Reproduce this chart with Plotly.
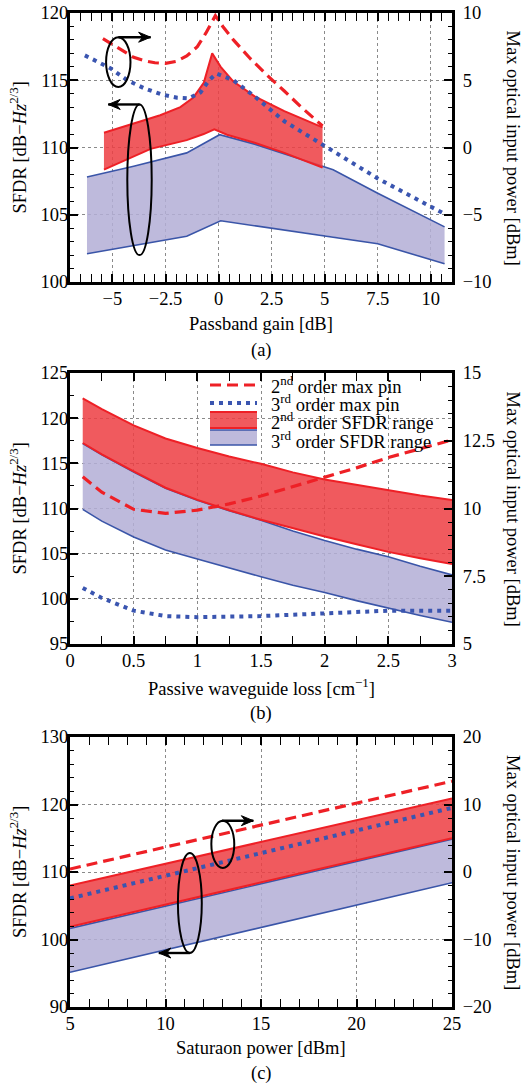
import numpy as np
import plotly.graph_objects as go
from plotly.subplots import make_subplots

FONT = "Liberation Serif"
FS = 18.5
RED_LINE = "#EE2026"
RED_FILL = "rgba(237,61,66,0.85)"
BLUE_LINE = "#3A55A8"
BLUE_DOT = "#3A55B0"
BLUE_FILL = "rgba(179,174,214,0.85)"

# ---------------- Panel (a): Passband gain ----------------
gain_pin2_a = [-5.45, -5, -4.5, -4, -3.5, -3, -2.5, -2, -1.5, -1, -0.6, -0.15, 0.2, 0.7, 1.5, 2.3, 3.1, 3.9, 4.9]
pin2_a = [8.1, 7.65, 7.15, 6.7, 6.45, 6.3, 6.25, 6.4, 6.8, 7.5, 8.5, 9.8, 9.0, 8.0, 6.6, 5.35, 4.2, 3.0, 1.6]
gain_pin3_a = [-6.3, -5.1, -4.3, -3.5, -2.7, -1.95, -1.4, -0.85, -0.45, -0.1, 0.7, 1.7, 3.1, 5.0, 7.5, 10.6]
pin3_a = [6.85, 5.9, 5.0, 4.4, 3.95, 3.7, 3.65, 4.1, 5.0, 5.5, 5.0, 3.8, 1.95, 0.1, -2.3, -4.9]
gain_red_up_a = [-5.4, -4.0, -2.75, -1.8, -1.2, -0.7, -0.3, 0.1, 0.7, 1.7, 3.1, 4.9]
red_up_a = [111.1, 111.8, 112.4, 113.0, 113.7, 114.8, 117.0, 116.0, 114.9, 113.8, 112.7, 111.5]
gain_red_lo_a = [-5.4, -4.0, -3.2, -1.5, -0.7, -0.2, 0.4, 1.7, 3.1, 4.9]
red_lo_a = [108.35, 109.35, 109.9, 110.55, 111.0, 111.35, 110.95, 110.35, 109.6, 108.5]
gain_blue_up_a = [-6.2, -4.0, -1.5, 0.05, 1.7, 3.1, 5.4, 7.5, 10.65]
blue_up_a = [107.8, 108.6, 109.6, 110.95, 110.25, 109.55, 108.35, 106.6, 104.1]
gain_blue_lo_a = [-6.2, -1.5, 0.1, 5.05, 7.5, 10.65]
blue_lo_a = [102.1, 103.4, 104.55, 103.45, 102.85, 101.35]

# ---------------- Panel (b): Passive waveguide loss ----------------
loss_b = [0.1, 0.25, 0.5, 0.75, 1.0, 1.25, 1.5, 1.75, 2.0, 2.25, 2.5, 2.75, 3.0]
red_up_b = [122.2, 121.0, 119.2, 117.75, 116.7, 115.75, 114.95, 114.0, 113.2, 112.6, 112.0, 111.45, 110.95]
red_lo_b = [117.25, 116.0, 114.1, 112.3, 110.95, 109.8, 108.75, 107.8, 106.9, 106.05, 105.2, 104.5, 103.85]
blue_up_b = [117.2, 115.95, 114.05, 112.25, 110.9, 109.75, 108.7, 107.5, 106.45, 105.5, 104.65, 103.6, 102.65]
blue_lo_b = [109.9, 108.6, 106.85, 105.4, 104.4, 103.4, 102.45, 101.5, 100.7, 99.8, 98.95, 98.15, 97.4]
pin2_b = [11.17, 10.6, 9.97, 9.82, 9.94, 10.17, 10.46, 10.8, 11.15, 11.5, 11.88, 12.2, 12.53]
pin3_b = [7.07, 6.7, 6.23, 6.03, 5.99, 6.0, 6.03, 6.08, 6.13, 6.18, 6.23, 6.23, 6.23]

# ---------------- Panel (c): Saturation power ----------------
psat_c = [5, 10, 15, 20, 25]
pin2_c = [0.44, 3.7, 6.95, 10.2, 13.45]
pin3_c = [-3.9, -0.55, 2.8, 6.15, 9.5]
red_up_c = [108.0, 111.2, 114.45, 117.7, 120.9]
red_lo_c = [101.9, 105.2, 108.45, 111.7, 115.0]
blue_up_c = [101.65, 104.95, 108.25, 111.55, 114.85]
blue_lo_c = [95.15, 98.45, 101.8, 105.1, 108.4]

x_titles = ["Passband gain [dB]", "Passive waveguide loss [cm<sup>−1</sup>]", "Saturaon power [dBm]"]
captions = ["(a)", "(b)", "(c)"]
left_title = "SFDR [dB−<i>Hz</i><sup>2/3</sup>]"
right_title = "Max optical input power [dBm]"
legend_labels = ["2<sup>nd</sup> order max pin", "3<sup>rd</sup> order max pin",
                 "2<sup>nd</sup> order SFDR range", "3<sup>rd</sup> order SFDR range"]

W, H = 531, 1087
PL, PR, PT, PB = 70, 452, 13, 1007
ML, MR, MT, MB = PL, W - PR, PT, H - PB
PW, PH = PR - PL, PB - PT


def px(xs):
    return (xs - PL) / PW


def py(ys):
    return 1 - (ys - PT) / PH


panels_px = [(13, 282), (373, 644), (737, 1007)]

fig = make_subplots(rows=3, cols=1, specs=[[{"secondary_y": True}]] * 3)


def band(row, xu, yu, xl, yl, fill, line, lw):
    xs = list(xu) + list(xl)[::-1]
    ys = list(yu) + list(yl)[::-1]
    fig.add_trace(go.Scatter(x=xs, y=ys, fill="toself", fillcolor=fill, mode="none",
                             showlegend=False, hoverinfo="skip"), row=row, col=1, secondary_y=False)
    for xx, yy in ((xu, yu), (xl, yl)):
        fig.add_trace(go.Scatter(x=xx, y=yy, mode="lines", line=dict(color=line, width=lw),
                                 showlegend=False), row=row, col=1, secondary_y=False)


def pins(row, x2, y2, x3, y3):
    fig.add_trace(go.Scatter(x=x2, y=y2, mode="lines", line=dict(color=RED_LINE, width=3.2, dash="11px,6px"),
                             showlegend=False), row=row, col=1, secondary_y=True)
    fig.add_trace(go.Scatter(x=x3, y=y3, mode="lines", line=dict(color=BLUE_DOT, width=4, dash="4px,5px"),
                             showlegend=False), row=row, col=1, secondary_y=True)


# (a)
band(1, gain_blue_up_a, blue_up_a, gain_blue_lo_a, blue_lo_a, BLUE_FILL, BLUE_LINE, 1.6)
band(1, gain_red_up_a, red_up_a, gain_red_lo_a, red_lo_a, RED_FILL, RED_LINE, 2)
pins(1, gain_pin2_a, pin2_a, gain_pin3_a, pin3_a)
# (b)
band(2, loss_b, blue_up_b, loss_b, blue_lo_b, BLUE_FILL, BLUE_LINE, 1.6)
band(2, loss_b, red_up_b, loss_b, red_lo_b, RED_FILL, RED_LINE, 2)
pins(2, loss_b, pin2_b, loss_b, pin3_b)
# (c)
band(3, psat_c, blue_up_c, psat_c, blue_lo_c, BLUE_FILL, BLUE_LINE, 1.6)
band(3, psat_c, red_up_c, psat_c, red_lo_c, RED_FILL, RED_LINE, 2)
pins(3, psat_c, pin2_c, psat_c, pin3_c)

tickfont = dict(family=FONT, size=FS, color="black")

x_specs = [([-7, 11], 2.5, 0.5), ([0, 3], 0.5, 0.25), ([5, 25], 5, 1)]
yl_specs = [([100, 120], 5, 1), ([95, 125], 5, 2.5), ([90, 130], 10, 2)]
yr_specs = [([-10, 10], 5, 1), ([5, 15], 2.5, 0.5), ([-20, 20], 10, 2)]

for i in range(3):
    top, bot = panels_px[i]
    dom = [py(bot), py(top)]
    xr, xd, xm = x_specs[i]
    fig.update_xaxes(row=i + 1, col=1, domain=[0, 1], range=xr, dtick=xd, tick0=0, ticks="inside", ticklen=8,
                     tickwidth=1.5, tickcolor="black", mirror="allticks", showline=True, linewidth=3,
                     linecolor="black", showgrid=True, gridcolor="#8a8a8a", griddash="dot", gridwidth=1,
                     zeroline=False, tickfont=tickfont, ticklabelstandoff=-2, automargin=False,
                     minor=dict(dtick=xm, tick0=0, ticks="inside", ticklen=4, tickwidth=1.2,
                                tickcolor="black", showgrid=False))
    yr, yd, ym = yl_specs[i]
    fig.update_yaxes(row=i + 1, col=1, secondary_y=False, domain=dom, range=yr, dtick=yd, tick0=0,
                     ticks="inside", ticklen=8, tickwidth=1.5, tickcolor="black", mirror=True,
                     showline=True, linewidth=3, linecolor="black", showgrid=True, gridcolor="#8a8a8a",
                     griddash="dot", gridwidth=1, zeroline=False, tickfont=tickfont, ticklabelstandoff=-5,
                     automargin=False,
                     minor=dict(dtick=ym, tick0=0, ticks="inside", ticklen=4, tickwidth=1.2,
                                tickcolor="black", showgrid=False))
    rr, rd, rm = yr_specs[i]
    fig.update_yaxes(row=i + 1, col=1, secondary_y=True, range=rr, dtick=rd, tick0=0,
                     ticks="inside", ticklen=8, tickwidth=1.5, tickcolor="black", showline=True,
                     linewidth=3, linecolor="black", showgrid=False, zeroline=False, tickfont=tickfont,
                     ticklabelstandoff=4, automargin=False,
                     minor=dict(dtick=rm, tick0=0, ticks="inside", ticklen=4, tickwidth=1.2,
                                tickcolor="black", showgrid=False))

annots = []
tfont = dict(family=FONT, size=FS, color="black")
x_title_y = [324, 687, 1048]
cap_y = [350, 713, 1073]
for i in range(3):
    top, bot = panels_px[i]
    mid = (top + bot) / 2
    annots.append(dict(text=x_titles[i], x=px(261), y=py(x_title_y[i]), xref="paper", yref="paper",
                       showarrow=False, font=tfont, xanchor="center", yanchor="middle"))
    annots.append(dict(text=captions[i], x=px(261), y=py(cap_y[i]), xref="paper", yref="paper",
                       showarrow=False, font=tfont, xanchor="center", yanchor="middle"))
    annots.append(dict(text=left_title, x=px(18), y=py(mid), xref="paper", yref="paper",
                       showarrow=False, font=tfont, textangle=-90, xanchor="center", yanchor="middle"))
    annots.append(dict(text=right_title, x=px(513), y=py(mid), xref="paper", yref="paper",
                       showarrow=False, font=tfont, textangle=90, xanchor="center", yanchor="middle"))

# legend (panel b), drawn manually
leg_rows = [385, 403.5, 421.5, 440]
for lab, yy in zip(legend_labels, leg_rows):
    annots.append(dict(text=lab, x=px(269), y=py(yy), xref="paper", yref="paper", showarrow=False,
                       font=tfont, xanchor="left", yanchor="middle"))

shapes = []
shapes.append(dict(type="line", xref="paper", yref="paper", x0=px(210), x1=px(257), y0=py(385), y1=py(385),
                   line=dict(color=RED_LINE, width=3.2, dash="11px,6px")))
shapes.append(dict(type="line", xref="paper", yref="paper", x0=px(210), x1=px(257), y0=py(403), y1=py(403),
                   line=dict(color=BLUE_DOT, width=4, dash="4px,5px")))
shapes.append(dict(type="rect", xref="paper", yref="paper", x0=px(210), x1=px(257), y0=py(428), y1=py(412),
                   fillcolor=RED_FILL, line=dict(width=0)))
for yy in (412, 428):
    shapes.append(dict(type="line", xref="paper", yref="paper", x0=px(210), x1=px(257), y0=py(yy), y1=py(yy),
                       line=dict(color=RED_LINE, width=2)))
shapes.append(dict(type="rect", xref="paper", yref="paper", x0=px(210), x1=px(257), y0=py(445), y1=py(430),
                   fillcolor=BLUE_FILL, line=dict(width=0)))
for yy in (430, 445):
    shapes.append(dict(type="line", xref="paper", yref="paper", x0=px(210), x1=px(257), y0=py(yy), y1=py(yy),
                       line=dict(color=BLUE_LINE, width=1.6)))

# ellipses + arrows pointing at the relevant axis
ell = [("x", "y", -5.3, -4.15, 114.5, 118.2), ("x", "y", -4.3, -3.15, 102.0, 113.2),
       ("x3", "y5", 12.4, 13.6, 110.6, 117.6), ("x3", "y5", 10.65, 11.9, 98.0, 112.8)]
for xr_, yr_, x0, x1, y0, y1 in ell:
    shapes.append(dict(type="circle", xref=xr_, yref=yr_, x0=x0, x1=x1, y0=y0, y1=y1,
                       line=dict(color="black", width=2)))
arrows = [("x", "y", -4.72, 118.2, -3.2, 118.2, 1), ("x", "y", -3.72, 113.2, -5.2, 113.2, -1),
          ("x3", "y5", 12.95, 117.6, 14.6, 117.6, 1), ("x3", "y5", 11.28, 98.0, 9.65, 98.0, -1)]
for xr_, yr_, xt, yt, xh, yh, d in arrows:
    shapes.append(dict(type="line", xref=xr_, yref=yr_, x0=xt, y0=yt, x1=xh, y1=yh,
                       line=dict(color="black", width=2.4)))
    head = f"M 0 0 L {-12 * d} 5 L {-8 * d} 0 L {-12 * d} -5 Z"
    shapes.append(dict(type="path", xref=xr_, yref=yr_, xsizemode="pixel", ysizemode="pixel",
                       xanchor=xh, yanchor=yh, path=head, fillcolor="black",
                       line=dict(color="black", width=1)))

fig.update_layout(width=W, height=H, margin=dict(l=ML, r=MR, t=MT, b=MB, autoexpand=False),
                  plot_bgcolor="white", paper_bgcolor="white", showlegend=False, annotations=annots,
                  shapes=shapes, font=dict(family=FONT, size=FS, color="black"))

fig.write_html("out.html", config={"displayModeBar": False},
               post_script="document.body.style.margin='0px';document.body.style.overflow='hidden';")
